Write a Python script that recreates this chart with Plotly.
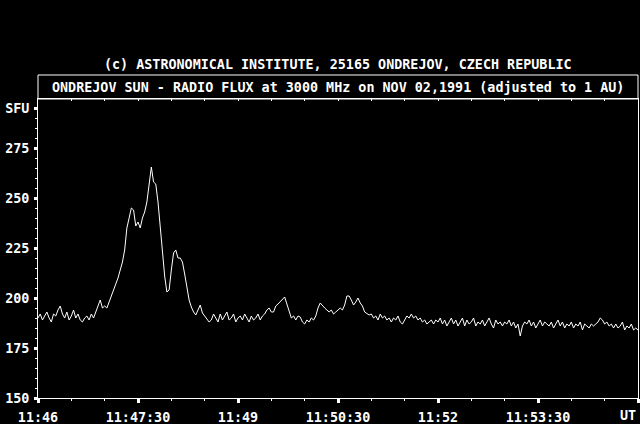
import plotly.graph_objects as go

# =========================================================================
# Data (flux in SFU, one sample every 2 s from 11:46:00)
# =========================================================================
step_s = 2
flux = [
    190, 192, 189, 191, 193, 190, 188, 192, 191, 194,
    196, 192, 190, 193, 189, 191, 194, 190, 192, 189,
    188, 190, 191, 189, 192, 190, 193, 196, 199, 195,
    196, 195, 198, 200, 204, 206, 210, 214, 218, 224,
    235, 240, 245, 244, 236, 238, 235, 240, 243, 248,
    257, 265.5, 258, 257, 248, 235, 222, 211, 203, 204,
    214, 222.5, 224, 220, 220, 218, 212, 205, 199, 195.5,
    193, 191.5, 194, 196.5, 192.5, 191, 190, 188, 189, 192,
    190, 188, 192, 189, 191, 193, 189, 190, 192, 188,
    190, 191, 189, 192, 190, 188, 191, 189, 190, 192,
    189, 191, 192, 194, 195, 193, 193, 196, 197, 198,
    199, 200.5, 197, 193, 190, 191, 189, 191, 190.5, 188,
    187, 189, 188, 190, 189, 191, 195, 197.5, 196, 195,
    194, 193, 194, 192, 193, 194, 195, 194, 196.5, 201,
    201, 199, 196.5, 198, 200, 197.5, 196, 193, 192, 191.5,
    192, 190, 191, 189, 192, 190, 191, 189, 190, 188,
    190, 189, 191, 188, 187, 189, 191, 190, 192, 190,
    191, 189, 190, 188, 189, 187, 188, 189, 187, 189,
    188, 190, 187, 189, 186, 188, 190, 187, 189, 186,
    188, 190, 186, 189, 187, 188, 190, 186, 188, 187,
    189, 186, 188, 190, 187, 185, 189, 187, 188, 186,
    188, 187, 189, 186, 188, 185, 187, 181, 186, 188,
    187, 189, 186, 188, 185, 187, 189, 186, 188, 187,
    186, 188, 185, 187, 189, 186, 188, 185, 187, 186,
    188, 185, 187, 186, 188, 184, 187, 186, 185, 187,
    186, 187, 188, 190, 189, 187, 188, 186, 187, 185,
    187, 185, 186, 188, 184, 186, 185, 187, 184, 185,
    184,
]
seconds = [i * step_s for i in range(len(flux))]

x_tick_vals = [0, 90, 180, 270, 360, 450, 540]
x_tick_text = ["11:46", "11:47:30", "11:49", "11:50:30", "11:52", "11:53:30", ""]
y_tick_vals = [150, 175, 200, 225, 250, 275, 295]
y_tick_text = ["150", "175", "200", "225", "250", "275", "SFU"]

copyright_text = "(c) ASTRONOMICAL INSTITUTE, 25165 ONDREJOV, CZECH REPUBLIC"
title_text = "ONDREJOV SUN - RADIO FLUX at 3000 MHz on NOV 02,1991 (adjusted to 1 AU)"

FONT = dict(family="DejaVu Sans Mono", size=13.4, color="white", weight="bold")

# =========================================================================
# Figure
# =========================================================================
fig = go.Figure()

fig.add_trace(
    go.Scatter(
        x=seconds,
        y=flux,
        mode="lines",
        line=dict(color="white", width=1),
        hoverinfo="skip",
        showlegend=False,
    )
)

# dummy trace so the top tick axis gets drawn
fig.add_trace(
    go.Scatter(x=[0], y=[150], xaxis="x2", mode="markers",
               marker=dict(opacity=0), showlegend=False, hoverinfo="skip")
)

fig.update_layout(
    width=640,
    height=424,
    paper_bgcolor="black",
    plot_bgcolor="black",
    margin=dict(l=38, r=2, t=99, b=26),
    font=FONT,
    showlegend=False,
    xaxis=dict(
        range=[0, 540],
        automargin=False,
        tickmode="array",
        tickvals=x_tick_vals,
        ticktext=x_tick_text,
        ticks="outside",
        ticklen=4,
        tickwidth=3,
        tickcolor="white",
        ticklabelstandoff=3,
        minor=dict(tickmode="linear", tick0=0, dtick=30, ticks="outside",
                   ticklen=2, tickwidth=1, tickcolor="white", showgrid=False),
        showline=True,
        linecolor="white",
        linewidth=1,
        mirror=True,
        showgrid=False,
        zeroline=False,
        tickfont=FONT,
    ),
    xaxis2=dict(
        range=[0, 540],
        automargin=False,
        overlaying="x",
        side="top",
        anchor="y",
        tickmode="linear",
        tick0=0,
        dtick=30,
        ticks="inside",
        ticklen=2,
        tickwidth=1,
        tickcolor="white",
        showticklabels=False,
        showline=False,
        showgrid=False,
        zeroline=False,
    ),
    yaxis=dict(
        range=[150, 299.5],
        automargin=False,
        tickmode="array",
        tickvals=y_tick_vals,
        ticktext=y_tick_text,
        ticks="outside",
        ticklen=3,
        tickwidth=3,
        tickcolor="white",
        ticklabelstandoff=2,
        minor=dict(tickmode="linear", tick0=150, dtick=5, ticks="outside",
                   ticklen=2, tickwidth=1, tickcolor="white", showgrid=False),
        showline=True,
        linecolor="white",
        linewidth=1,
        mirror=True,
        showgrid=False,
        zeroline=False,
        tickfont=FONT,
    ),
)

# title box above the plot
fig.add_shape(
    type="rect",
    xref="paper",
    yref="paper",
    x0=0,
    x1=1,
    y0=1,
    y1=1.0803,
    line=dict(color="white", width=1),
)

fig.add_annotation(
    text=title_text, xref="paper", yref="paper", x=0.5, y=1.04,
    xanchor="center", yanchor="middle", showarrow=False, font=FONT,
)
fig.add_annotation(
    text=copyright_text, xref="paper", yref="paper", x=0.5, y=1.117,
    xanchor="center", yanchor="middle", showarrow=False, font=FONT,
)
fig.add_annotation(
    text="UT", xref="paper", yref="paper", x=1.0, y=-0.06,
    xanchor="right", yanchor="middle", showarrow=False, font=FONT,
)

# drop the page margin so the figure sits at the window corner
fig.write_html(
    "out.html",
    config={"displayModeBar": False},
    post_script="document.body.style.margin='0';"
    "document.body.style.background='black';",
)
